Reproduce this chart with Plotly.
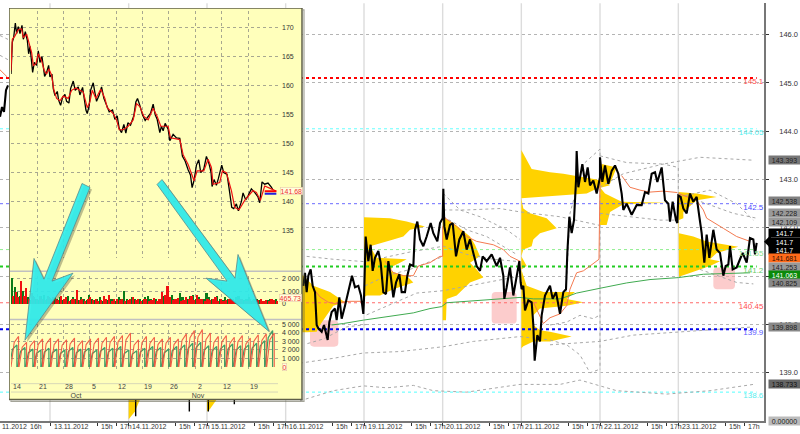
import plotly.graph_objects as go

W, H = 800, 434
FONT = "Liberation Sans"

# ---------- main chart data (x = bar number, y = price) ----------
price_x = [0,6,12,18,24,
 910,915,920,925,932,938,945,950,955,965,972,983,988,995,1005,1010,1018,1025,1035,1042,1050,1056,1065,1075,1083,1090,
 1092,1097,1105,1112,1118,1125,1135,1142,1150,1158,1165,1172,1180,1188,1198,1205,1215,1222,1230,1240,1245,1252,1260,1270,1280,1292,1300,1312,1320,1328,
 1330,1333,1340,1350,1358,1368,1378,1390,1400,1410,1420,1430,1440,1448,1460,1475,1490,1500,1510,1513,1520,1530,1540,1550,1558,1562,
 1565,1570,1575,1585,1595,1600,1604,1612,1620,1625,1635,1650,1658,1668,1680,1690,1698,1702,1708,1715,1722,1728,1730,1735,1747,1755,1763,1770,1780,1790,1800,
 1800,1807,1815,1825,1835,1845,1855,1865,1870,1880,1895,1910,1925,1935,1945,1955,1965,1972,1985,1995,2005,2010,2018,2028,2032,
 2035,2042,2050,2060,2070,2080,2090,2098,2105,2113,2120,2128,2140,2150,2160,2170,2177,2185,2190,2198,2210,2220,2228,2240,2250,2260,2265,2270]
price_y = [144.3,144.5,144.4,144.85,144.95,
 140.80,141.07,140.67,141.01,141.14,140.80,140.67,139.99,139.92,139.85,139.99,139.68,140.05,140.26,140.33,140.09,140.56,140.12,140.39,140.60,140.80,141.01,140.77,140.80,140.60,140.22,
 140.53,141.82,141.31,141.65,141.11,141.38,141.52,141.28,140.67,140.63,141.31,141.01,140.56,140.87,141.04,140.67,140.67,141.01,141.24,141.21,141.96,142.13,141.76,141.62,141.82,142.10,141.89,141.72,142.10,142.20,
 142.81,142.03,141.76,142.06,142.10,141.41,141.76,141.93,141.55,141.76,141.48,141.21,141.11,141.41,141.31,141.45,141.21,141.38,141.01,140.53,140.77,141.18,140.60,141.01,141.31,140.87,
 140.73,140.80,140.29,140.50,140.46,139.99,139.25,139.78,139.65,140.19,140.60,140.80,140.53,140.67,140.22,140.67,140.73,141.48,142.23,141.89,142.16,142.98,143.59,142.84,143.32,142.95,143.25,142.88,142.98,142.71,143.05,
 143.46,142.95,143.29,142.91,143.18,143.29,143.12,142.71,142.37,142.50,142.27,142.47,142.47,142.74,142.71,143.12,143.15,142.95,143.25,142.57,142.50,142.13,142.54,142.16,142.10,
 142.67,142.64,142.40,142.30,142.71,142.54,142.64,142.23,141.89,141.28,141.86,141.38,141.96,141.55,141.48,141.01,141.21,141.24,141.62,141.14,141.18,141.35,141.48,141.28,141.79,141.76,141.45,141.69]

wick_x = [407,407,None,568,568,None,625,625,None,703,703]
wick_y = [138.45,138.10,None,138.45,138.2,None,138.45,138.2,None,138.45,138.35]

orange_sessions = [
 ([0,22],[145.27,145.12]),
 ([945,960,985,1005,1020,1050,1090],[140.70,140.57,140.46,140.43,140.46,140.48,140.48]),
 ([1155,1180,1210,1240,1255,1290,1320,1328,1328],[141.31,141.07,141.01,141.01,141.21,141.28,141.41,141.41,142.03]),
 ([1330,1370,1400,1430,1480,1510,1530,1560],[142.23,142.03,141.82,141.72,141.65,141.55,141.41,141.31]),
 ([1600,1630,1650,1680,1700,1710,1730,1750,1770,1797,1800],[140.46,140.02,140.14,140.22,140.39,140.73,141.07,141.11,141.21,141.35,143.01]),
 ([1865,1890,1920,1950,1990,2032],[143.08,142.84,142.78,142.74,142.76,142.73]),
 ([2035,2090,2110,2120,2170,2210,2250],[142.71,142.57,142.37,142.20,141.99,141.82,141.72]),
]
green_x = [995,1030,1090,1160,1240,1290,1325,1340,1400,1460,1560,1600,1680,1710,1730,1800,1880,1950,2035,2110,2250]
green_y = [139.99,140.02,140.09,140.16,140.24,140.33,140.37,140.45,140.48,140.52,140.56,140.53,140.53,140.60,140.65,140.75,140.86,140.93,140.97,141.04,141.07]

gray_bands = [
 ([0,24],[145.98,145.90]),
 ([0,24],[145.57,145.48]),
 ([1330,1380,1440,1520,1560],[142.71,142.37,142.23,141.96,141.76]),
 ([1330,1400,1500,1560,1680,1800],[142.37,142.37,142.40,142.33,142.23,142.05]),
 ([1330,1400,1460,1550],[142.23,141.96,141.82,141.45]),
 ([1095,1160,1230,1330],[140.80,141.01,141.14,141.41]),
 ([920,1000,1095,1160,1230,1330,1400,1480,1560],[141.41,141.35,141.30,141.40,141.50,141.62,141.45,141.35,141.30]),
 ([900,1000,1090,1200,1330,1420,1560,1650,1700,1740,1770,1798],[139.20,139.30,139.41,139.44,139.54,139.65,139.75,139.68,139.58,139.37,139.00,139.07]),
 ([900,1000,1090,1160,1240,1300,1400,1560,1680,1740,1850,2000,2130,2260],[138.42,138.63,138.73,138.69,138.74,138.63,138.60,138.76,138.76,138.85,138.63,138.56,138.63,138.76]),
 ([1698,1710,1750,1800,1800],[140.67,142.30,143.32,143.63,139.07]),
 ([1800,1880,1990,2100,2260],[143.49,143.35,143.32,143.46,143.40]),
 ([1800,1870,1990,2035,2035,2130,2210,2260],[142.84,143.12,143.32,143.25,142.64,142.78,142.50,142.16]),
 ([2035,2200,2270],[142.71,142.30,142.20]),
 ([1800,1900,1980,2030],[142.30,142.23,142.16,142.16]),
 ([2100,2210,2260],[141.14,140.87,140.84]),
 ([1650,1700,1740,1780,1798],[139.99,140.05,140.19,140.12,140.19]),
 ([1650,1800,1900,2050,2260],[139.58,139.65,139.78,139.85,139.95]),
 ([1100,1040,970,920],[140.00,139.95,139.70,139.60]),
 ([1100,1250,1330,1440,1560],[140.20,140.65,140.70,140.85,141.00]),
]

profile_bars = [
 ([857,910,940,990,1035,1000,960,950,920,910,857],[141.18,141.01,140.80,140.67,140.46,140.39,139.99,139.85,139.84,139.84,139.84]),
 ([1092,1170,1220,1275,1230,1210,1180,1130,1110,1130,1220,1200,1180,1170,1200,1220,1240,1180,1140,1100,1092],
  [142.22,142.20,142.13,142.03,141.96,141.82,141.76,141.65,141.62,141.38,141.35,141.28,141.21,141.11,141.04,141.01,140.87,140.73,140.60,140.60,140.56]),
 ([1328,1360,1410,1425,1440,1410,1430,1450,1410,1390,1370,1340,1340,1338,1338,1328],
  [142.22,142.10,141.82,141.65,141.41,141.28,141.14,140.97,140.87,140.73,140.60,140.53,140.46,140.39,140.09,140.09]),
 ([1564,1580,1595,1650,1690,1790,1830,1790,1760,1564,1570,1590,1640,1670,1620,1600,1595,1570,1564,1580,1564,1580,1630,1725,1700,1750,1700,1620,1600,1600,1620,1650,1715,1650,1600,1570,1564,1564],
  [143.61,143.42,143.22,143.15,143.12,143.00,142.88,142.81,142.71,142.61,142.40,142.30,142.20,141.99,141.89,141.76,141.62,141.55,141.41,141.21,141.14,140.80,140.67,140.67,140.53,140.46,140.39,140.33,140.19,139.99,139.88,139.85,139.75,139.65,139.65,139.55,139.51,139.22]),
 ([1800,1805,1850,1830,1800,1815,1865,2000,1870,1830,1820,1800],
  [143.00,143.32,143.25,142.91,142.84,142.71,142.54,142.52,142.49,142.33,142.06,142.06]),
 ([2035,2090,2150,2090,2050,2050,2037,2037,2080,2120,2215,2150,2130,2160,2130,2070,2037],
  [142.74,142.71,142.64,142.57,142.33,142.20,142.16,141.89,141.82,141.72,141.61,141.48,141.35,141.31,141.21,141.07,140.99]),
 ([386,420,405,392,386],[138.45,138.45,138.2,138.1,138.04]),
 ([621,650,630,621],[138.45,138.45,138.25,138.2]),
]

levels = [145.1,144.05,142.5,141.55,141.2,140.45,139.9,138.6]
level_labels = ["145.1","144.05","142.5","141.55","141.2","140.45","139.9","138.6"]
level_colors = ["#ff0000","#66ffff","#6a6aff","#90ee90","#22cc22","#ff6a6a","#0000ee","#55ffff"]
level_text = ["#ff5050","#55eeee","#4a4aff","#88dd88","#66cc66","#ff5050","#5a5aff","#55eeee"]
level_widths = [2,1,1,1,2,1,2,1]

sessions = [150,386,621,857,1092,1328,1564,1800,2035]
session_labels = ["13.11.2012","14.11.2012","15.11.2012","16.11.2012","19.11.2012","20.11.2012","21.11.2012","22.11.2012","23.11.2012"]
hour_offsets = [141,198]
hour_labels = ["15h","17h"]

pink_boxes = [(930,1015,140.09,139.54),(1475,1550,140.67,140.02),(2140,2205,141.18,140.73)]

price_ticks = [146,145,144,143,142,141,140,139]
price_tick_labels = ["146.0","145.0","144.0","143.0","142.0","","140.0","139.0"]

value_tags = [
 ("143.393",159,"#777777","#222"),("142.538",200.7,"#808080","#222"),("142.228",213,"#999999","#222"),
 ("142.109",222,"#999999","#222"),("141.7",233,"#000000","#fff"),("141.7",242,"#000000","#fff"),
 ("141.7",250,"#000000","#fff"),("141.681",259,"#ff6a1a","#331100"),("141.253",268,"#999999","#222"),
 ("141.063",276,"#0a8a0a","#fff"),("140.825",284,"#888888","#222"),("139.898",329,"#888888","#222"),
 ("138.733",386,"#666666","#111"),("0.00000",424,"#bbbbbb","#222"),
]

# ---------- inset data (x = bar number within inset) ----------
inset_x = [33,37,41,46,50,55,60,66,70,76,82,86,90,95,98,103,110,115,120,126,130,134,140,146,150,156,160,165,172,176,182,188,195,200,207,212,220,226,235,240,248,252,258,262,268,272,280,285,290,298,305,312,320,328,338,345,352,358,365,372,378,384,392,402,408,413,420,428,436,445,452,460,466,472,480,485,490,496,505,510,520,530,540,548,556,565,572,577,583,590,597,603,612,620,628,634,637,643,650,656,666,672,682,690,696,702,710,716,725,730,738,745,755,765,775,780,787,795,805,815,820]
inset_y = [162.0,167.5,168.3,170.8,169.0,170.2,169.0,170.4,168.0,169.3,167.8,165.5,166.8,164.5,162.3,164,163.5,166,164,165,163.2,161.6,162.3,163.5,161.5,162,159.5,158.3,159,157.5,156.6,158,158.5,157.3,157,159.5,160.8,159.2,159.8,158.4,159.7,158.3,155.8,155.2,156.6,159.2,160.5,158.8,157.3,158.4,159.8,157.8,156.5,155.5,155.8,154.2,154.8,152.6,151.9,153.3,151.8,153.6,153.2,154.8,157.2,157.8,156.6,155,154,154.8,155.2,156.8,155,154.2,151.9,153,152.2,153.5,152.5,150.5,151.6,151,150.9,147.8,147,145.5,144.6,142.4,143.7,146.3,147.2,145,145.6,147.8,146.5,145,142.6,143.8,142.8,144,146.3,145,144.7,141.5,139,138.8,139.6,138.4,140,141.5,140.3,141,142.2,141.6,140.8,139.8,143.4,143,143.2,142.5,142]
inset_red_x = [33,37,45,55,65,70,80,88,95,100,108,115,125,133,140,147,155,162,170,180,190,205,215,228,240,250,262,270,277,288,303,315,322,340,350,358,370,385,400,410,420,432,445,460,472,483,505,512,540,550,565,583,592,612,625,635,640,660,668,680,695,705,718,735,760,770,782,795,815,830]
inset_red_y = [162.6,168.0,168.6,169.7,169.8,168.3,168.9,166.9,165.7,163.5,163.8,165.5,164.3,162.6,162.0,162.9,161.8,159.2,157.8,157.4,158.2,157.8,159.2,159.6,159.2,158.9,156.2,157.2,159.2,157.8,159.4,157.8,156.2,155.2,154.1,152.4,152.4,153.0,154.1,156.9,156.4,154.7,154.1,156.1,154.7,153.0,153.0,151.0,150.7,148.1,146.4,143.6,145.3,145.3,147.3,145.9,143.0,143.3,145.3,145.0,141.9,139.0,138.6,140.2,141.9,141.6,140.2,142.7,142.2,141.8]
inset_marks = [(141.8,"#ff0000"),(141.35,"#2020dd")]
inset_week_grid = [33,112,190,270,350,428,507,587,665,745]
inset_price_ticks = [170,165,160,155,150,145,140,135]
day_labels = ["14","21","28","5","12","19","26","2","12","19"]
day_label_px = [17,43,69,94,122,148,174,200,227,254]
month_labels = ["Oct","Nov"]
month_label_px = [76,198]

vol_green = [2000,1300,900,600,1000,400,500,300,600,400,300,600,700,400,500,350,500,400,500,300,400,600,300,500,400,300,550,400,300,700,400,300,350,500,250,400,300,400,350,250,500,350,1000,400,300,500,350,250,400,300,500,600,350,300,400,250,400,600,300,500,700,400,300,800,500,300,400,600,700,400,500,300,400,800,500,400,400,600,400,300,500,400,300,400,500,600,350,300,400,500,250,350,400,300,250,200,300,400,250,400]
vol_red = [600,900,500,1800,600,1200,400,800,500,400,600,400,300,600,450,500,400,300,600,350,500,250,400,350,1100,300,400,250,350,500,300,400,250,300,600,350,700,200,350,400,300,400,250,300,350,500,300,400,250,350,400,200,300,450,250,350,900,700,1400,500,300,350,450,250,300,500,400,600,300,700,350,400,250,350,300,400,500,250,350,200,300,400,350,250,300,350,400,200,250,350,300,250,300,400,250,300,200,350,300,200]

cycle_red = [3600,2900,3100,3300,3400,3300,3200,3400,3100,3300,3400,3500,3600,3700,4000,3200,3600,3500,3300,3500,3300,3900,4300,4400,4000,3600,3700,3500,3700,3400,3800,3900,4000]
cycle_green = [2600,2300,2100,2000,2200,2100,2000,2300,2100,2200,2000,2300,2200,2400,2000,1900,2200,2400,2300,2100,2400,2600,2800,2900,2500,2400,2600,2700,2500,2600,2800,3100,4300]
cycle_width = 24
vol2_ticks = [2000,1000,0]
vol2_labels = ["2 000","1 000","0"]
vol3_ticks = [5000,4000,3000,2000,1000]
vol3_labels = ["5 000","4 000","3 000","2 000","1 000"]

# ---------- pixel helpers ----------
def PX(p): return p / W
def PY(p): return 1 - p / H

fig = go.Figure()
def line(x, y, color, width=1, dash=None, ax="", **kw):
    fig.add_trace(go.Scatter(x=x, y=y, mode="lines", xaxis="x"+ax, yaxis="y"+ax, hoverinfo="skip",
                             line=dict(color=color, width=width, dash=dash), showlegend=False, **kw))

# ---- main subplot
sx, sy = [], []
for s in sessions:
    sx += [s, s, None]; sy += [138, 146.65, None]
line(sx, sy, "#dcdcdc", 1.4)
for x, y in profile_bars:
    fig.add_trace(go.Scatter(x=x, y=y, mode="lines", fill="toself", fillcolor="#ffd200", line=dict(width=0, color="#ffd200"),
                             showlegend=False, hoverinfo="skip"))
for lv, c, w in zip(levels, level_colors, level_widths):
    line([0, 2270], [lv, lv], c, w, "dot")
for x, y in gray_bands:
    line(x, y, "#a8a8a8", 1, "dot")
for x, y in orange_sessions:
    line(x, y, "#f47a50", 1)
line(green_x, green_y, "#40aa50", 1)
pxs = price_x[:5] + [None] + price_x[5:]
pys = price_y[:5] + [None] + price_y[5:]
line(pxs, pys, "#000000", 2.1)
line(wick_x, wick_y, "#000000", 1.4)
fig.add_trace(go.Scatter(x=[2290]*len(levels), y=levels, mode="text", text=level_labels, textposition="bottom left",
                         textfont=dict(size=8, color=level_text, family=FONT), showlegend=False, hoverinfo="skip", cliponaxis=False))

# ---- frame of the inset (axes in pixels)
line([9,302,302,9,9], [5,5,402,402,5], "#5f5f48", 1.5, ax="2", fill="toself", fillcolor="#ffffbb")
line([303,304,304,11,11], [7,7,404,404,403], "rgba(90,90,70,0.55)", 1.2, ax="2")
line([10,301], [272,272], "#c0c0c0", 1.5, ax="2")
line([10,301], [321,321], "#c0c0c0", 1.5, ax="2")
line([11,278], [386,386], "#d8d8b8", 1, ax="2")
line([11,278], [394.5,394.5], "#d8d8b8", 1, ax="2")
fig.add_trace(go.Scatter(x=day_label_px, y=[390]*len(day_labels), mode="text", text=day_labels, xaxis="x2", yaxis="y2",
                         textfont=dict(size=7, color="#444", family=FONT), showlegend=False, hoverinfo="skip"))
fig.add_trace(go.Scatter(x=month_label_px, y=[398.5]*2, mode="text", text=month_labels, xaxis="x2", yaxis="y2",
                         textfont=dict(size=7, color="#444", family=FONT), showlegend=False, hoverinfo="skip"))

# ---- inset price
line(inset_x, inset_y, "#000000", 1.3, ax="3")
line(inset_red_x, inset_red_y, "#ee1111", 1.2, ax="3")
for v, c in inset_marks:
    line([795, 830], [v, v], c, 2, ax="3")

# ---- inset volume
vx = [37 + 8*i for i in range(len(vol_green))]
fig.add_trace(go.Bar(x=vx, y=vol_green, marker=dict(color="#0a7a1a", line=dict(width=0)), width=5, xaxis="x4", yaxis="y4",
                     showlegend=False, hoverinfo="skip"))
fig.add_trace(go.Bar(x=[v + 3 for v in vx], y=vol_red, marker=dict(color="#f01010", line=dict(width=0)), width=5, xaxis="x4", yaxis="y4",
                     showlegend=False, hoverinfo="skip"))

# ---- inset cumulative lines
def saw(peaks, shift=0):
    xs, ys, pos = [], [], 33
    for p in peaks:
        xs += [pos+shift, pos+shift + cycle_width*0.4, pos+shift + cycle_width*0.95, pos+shift + cycle_width*0.95, None]
        ys += [0, p*0.8, p, 0, None]
        pos += cycle_width
    return xs, ys
x_, y_ = saw(cycle_green, -5); line(x_, y_, "#3f9f68", 1.3, ax="5")
x_, y_ = saw(cycle_red); line(x_, y_, "rgba(240,80,60,0.9)", 1.1, ax="5")

# ---- shapes
shapes = []
for x0, x1, y0, y1 in pink_boxes:
    dx, dy = 12, 0.08
    path = (f"M{x0+dx},{y0} L{x1-dx},{y0} Q{x1},{y0} {x1},{y0-dy} L{x1},{y1+dy} Q{x1},{y1} {x1-dx},{y1} "
            f"L{x0+dx},{y1} Q{x0},{y1} {x0},{y1+dy} L{x0},{y0-dy} Q{x0},{y0} {x0+dx},{y0} Z")
    shapes.append(dict(type="path", path=path, xref="x", yref="y", fillcolor="rgba(250,170,170,0.6)", line=dict(width=0), layer="between"))
arrow1 = [(82,183),(90,187),(52,282),(73,274),(25,342),(34,259),(44,280)]
arrow2 = [(162,179),(235,279),(238,255),(269,333),(206,279),(227,282),(157,184)]
def poly(pts, ox=0, oy=0):
    return "M" + " L".join(f"{PX(a+ox):.4f},{PY(b+oy):.4f}" for a, b in pts) + " Z"
for a in (arrow1, arrow2):
    shapes.append(dict(type="path", path=poly(a, 2, 2), xref="paper", yref="paper", fillcolor="rgba(70,70,50,0.35)", line=dict(width=0), layer="above"))
    shapes.append(dict(type="path", path=poly(a), xref="paper", yref="paper", fillcolor="rgba(48,238,238,0.92)", line=dict(width=0.8, color="#5a8a8a"), layer="above"))
shapes.append(dict(type="path", path=poly([(764,242),(771,235),(771,249)]), xref="paper", yref="paper", fillcolor="#000", line=dict(width=0), layer="above"))

# ---- annotations
ann = []
lab = dict(showarrow=False, font=dict(size=7, color="#333", family=FONT), yref="paper", y=PY(429.5), yanchor="middle", xanchor="left")
for s, t in zip(sessions, session_labels):
    ann.append(dict(x=s+5, xref="x", text=t, **lab))
    for o, h in zip(hour_offsets, hour_labels):
        ann.append(dict(x=s+o+5, xref="x", text=h, **lab))
ann.append(dict(x=0, xref="paper", text="11.2012", **lab))
ann.append(dict(x=PX(28), xref="paper", text="16h", **lab))
for t, py, bg, fg in value_tags:
    ann.append(dict(x=PX(784), xref="paper", y=PY(py), yref="paper", text=t, showarrow=False, bgcolor=bg, width=31, height=8, borderpad=0,
                    font=dict(size=7, color=fg, family=FONT), xanchor="center", yanchor="middle"))
for t, px_, py, fg in [("141.68",291.5,191,"#f03030"),("465.73",290,299,"#f03030"),("0",284,369,"#f03030")]:
    ann.append(dict(x=PX(px_), xref="paper", y=PY(py), yref="paper", text=t, showarrow=False, bgcolor="#ffffdd", bordercolor="#e8c8a8", borderwidth=0.6, borderpad=0,
                    font=dict(size=7, color=fg, family=FONT), xanchor="center", yanchor="middle"))

tick7 = dict(size=7, color="#333", family=FONT)
grid = dict(showgrid=True, gridcolor="#a8a890", griddash="dot", gridwidth=0.8, zeroline=False)
def dom_x(a, b): return [a/W, b/W]
def dom_y(top, bot): return [1-bot/H, 1-top/H]

fig.update_layout(
    width=W, height=H, margin=dict(l=0, r=0, t=0, b=0), paper_bgcolor="#ffffff", plot_bgcolor="rgba(0,0,0,0)",
    shapes=shapes, annotations=ann, barmode="overlay", bargap=0, showlegend=False,
    xaxis=dict(domain=dom_x(0,764), range=[0,2292], tickvals=sorted(sessions+[s+o for s in sessions for o in hour_offsets]),
               showticklabels=False, ticks="outside", ticklen=3, tickcolor="#333", showgrid=False, zeroline=False,
               showline=True, linecolor="#777", linewidth=1.5, anchor="y"),
    yaxis=dict(domain=dom_y(0,424), range=[138,146.653], side="right", anchor="x", tickvals=price_ticks, ticktext=price_tick_labels,
               tickfont=dict(size=7.5, color="#333", family=FONT), ticks="outside", ticklen=3, tickcolor="#333",
               ticklabelstandoff=9, showgrid=True, gridcolor="#b4b4b4", griddash="dot", gridwidth=1, zeroline=False,
               showline=True, linecolor="#777", linewidth=1.5),
    xaxis2=dict(domain=dom_x(9,305), range=[9,305], visible=False, anchor="y2"),
    yaxis2=dict(domain=dom_y(5,405), range=[405,5], visible=False, anchor="x2"),
    xaxis3=dict(domain=dom_x(11,278), range=[33,835], tickvals=inset_week_grid, showticklabels=False, ticks="", anchor="y3", **grid),
    yaxis3=dict(domain=dom_y(8,259), range=[130.2,172.9], side="right", anchor="x3", tickvals=inset_price_ticks, tickfont=tick7, ticks="", ticklabelstandoff=3, **grid),
    xaxis4=dict(domain=dom_x(11,278), range=[33,835], tickvals=inset_week_grid, showticklabels=False, ticks="", anchor="y4", **grid),
    yaxis4=dict(domain=dom_y(277,306), range=[-60,2150], side="right", anchor="x4", tickvals=vol2_ticks, ticktext=vol2_labels, tickfont=tick7, ticks="", ticklabelstandoff=3, **grid),
    xaxis5=dict(domain=dom_x(11,278), range=[33,835], tickvals=inset_week_grid, showticklabels=False, ticks="", anchor="y5", **grid),
    yaxis5=dict(domain=dom_y(325,373), range=[-460,5120], side="right", anchor="x5", tickvals=vol3_ticks, ticktext=vol3_labels, tickfont=tick7, ticks="", ticklabelstandoff=3, **grid),
)
fig.write_html("out.html", config=dict(displayModeBar=False),
               post_script="document.documentElement.style.margin='0';document.body.style.margin='0';document.body.style.overflow='hidden';")
